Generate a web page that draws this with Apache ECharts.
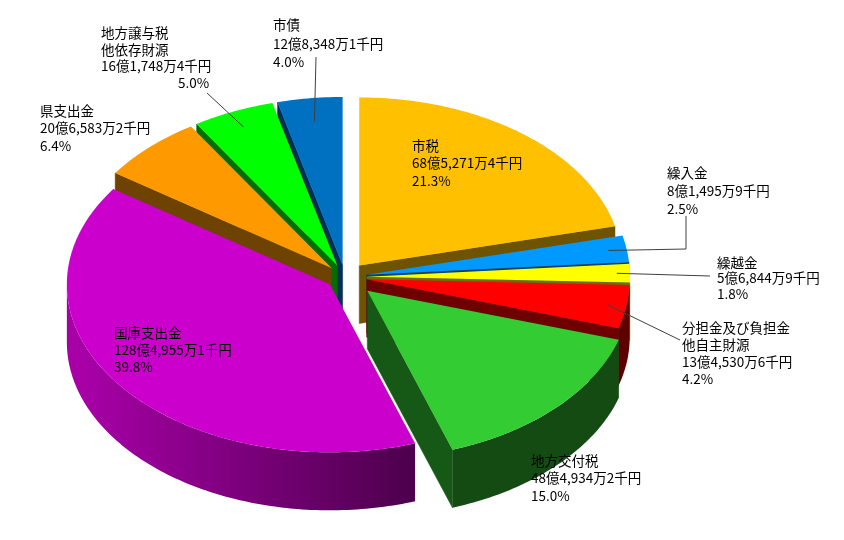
<!DOCTYPE html>
<html>
<head>
<meta charset="utf-8">
<script src="https://cdn.jsdelivr.net/npm/echarts/dist/echarts.min.js"></script>
<style>
  html, body { margin: 0; padding: 0; background: #fff; }
  #main { width: 844px; height: 540px; }
</style>
</head>
<body>
<div id="main"></div>
<script>
// 歳入の内訳（単位：千円）
var names = ['市税', '繰入金', '繰越金', '分担金及び負担金\n他自主財源', '地方交付税',
             '国庫支出金', '県支出金', '地方譲与税\n他依存財源', '市債'];
var values = [6852714, 814959, 568449, 1345306, 4849342, 12849551, 2065832, 1617484, 1283481];
var colors = ['#FFC000', '#0099FF', '#FFFF00', '#FF0000', '#33CC33',
              '#CC00CC', '#FF9900', '#00FF00', '#0070C0'];

// 立体円グラフの見た目
var CX = 345, CY = 277, RX = 263, RY = 168, DEPTH = 58;
var explode = [23, 22, 22, 22, 31, 19, 19, 19, 19];

// ラベルの位置（左上）と引き出し線
var labelPos = [
    { x: 412, y: 137, lh: 17.5 },
    { x: 667, y: 164, lh: 18, r: 0.93, line: [[686, 249], [686, 216]] },
    { x: 717, y: 255, lh: 15.5, r: 0.95, line: [[710, 276]] },
    { x: 682, y: 319.5, lh: 17, r: 0.93, line: [[680, 340]] },
    { x: 531, y: 452, lh: 17.5 },
    { x: 114, y: 324.5, lh: 17 },
    { x: 40, y: 102, lh: 17.5 },
    { x: 101, y: 25, lh: 16.5, pctX: 178, r: 0.9, line: [[207, 93]] },
    { x: 273, y: 16, lh: 18.5, r: 0.86, line: [[316, 57]] }
];

var total = values.reduce(function (s, v) { return s + v; }, 0);
var starts = [];
var acc = 0;
values.forEach(function (v) {
    starts.push(acc / total * Math.PI * 2);
    acc += v;
});

// 奥から手前へ描く順番
var order = values.map(function (v, i) { return i; }).sort(function (a, b) {
    var ma = starts[a] + values[a] / total * Math.PI;
    var mb = starts[b] + values[b] / total * Math.PI;
    return -Math.cos(ma) - -Math.cos(mb);
});

function shade(hex, f) {
    var n = parseInt(hex.slice(1), 16);
    var r = Math.round(((n >> 16) & 255) * f);
    var g = Math.round(((n >> 8) & 255) * f);
    var b = Math.round((n & 255) * f);
    return 'rgb(' + r + ',' + g + ',' + b + ')';
}

function yen(v) {
    var oku = Math.floor(v / 100000);
    var man = Math.floor((v % 100000) / 10);
    var sen = v % 10;
    var manStr = man >= 1000 ? Math.floor(man / 1000) + ',' + String(man % 1000).padStart(3, '0') : String(man);
    return oku + '億' + manStr + '万' + sen + '千円';
}

var FONT = '13.5px "Noto Sans CJK JP", sans-serif';

function renderItem(params, api) {
    var i = params.dataIndex;
    var a0 = starts[i];
    var a1 = a0 + api.value(0) / total * Math.PI * 2;
    var mid = (a0 + a1) / 2;
    var ox = CX + explode[i] * Math.sin(mid);
    var oy = CY - explode[i] * Math.cos(mid) * RY / RX;
    function pt(t, r, h) {
        return [ox + r * RX * Math.sin(t), oy - r * RY * Math.cos(t) + (h || 0)];
    }
    function arc(t0, t1, h) {
        var n = Math.max(2, Math.ceil((t1 - t0) / (Math.PI / 180)));
        var pts = [];
        for (var k = 0; k <= n; k++) pts.push(pt(t0 + (t1 - t0) * k / n, 1, h));
        return pts;
    }
    var rank = order.indexOf(i);
    var dark = shade(colors[i], 0.43);
    var children = [];

    // 切り口の面
    function face(t) {
        return {
            type: 'polygon', z2: rank * 10 + 1,
            shape: { points: [[ox, oy], pt(t, 1), pt(t, 1, DEPTH), [ox, oy + DEPTH]] },
            style: { fill: dark, stroke: dark, lineWidth: 0.5 }
        };
    }
    if (-Math.sin(a0) > 1e-6) children.push(face(a0));
    if (Math.sin(a1) > 1e-6) children.push(face(a1));

    // 外側の側面
    var w0 = Math.max(a0, Math.PI / 2), w1 = Math.min(a1, Math.PI * 1.5);
    if (w1 > w0) {
        var top = arc(w0, w1, 0);
        var bottom = arc(w0, w1, DEPTH).reverse();
        children.push({
            type: 'polygon', z2: rank * 10 + 2,
            shape: { points: top.concat(bottom) },
            style: {
                fill: {
                    type: 'linear', x: CX - RX, y: 0, x2: CX + 75, y2: 0, global: true,
                    colorStops: [
                        { offset: 0, color: shade(colors[i], 0.82) },
                        { offset: 1, color: shade(colors[i], 0.37) }
                    ]
                }
            }
        });
    }

    // 上面
    children.push({
        type: 'polygon', z2: rank * 10 + 5,
        shape: { points: [[ox, oy]].concat(arc(a0, a1, 0)) },
        style: { fill: colors[i] }
    });

    // ラベル
    var lp = labelPos[i];
    var pct = (values[i] / total * 100).toFixed(1) + '%';
    var txt = names[i] + '\n' + yen(values[i]);
    if (lp.pctX == null) txt += '\n' + pct;
    children.push({
        type: 'text', z2: 1000,
        style: { text: txt, x: lp.x, y: lp.y, font: FONT, fill: '#000', lineHeight: lp.lh, verticalAlign: 'top' }
    });
    if (lp.pctX != null) {
        var nLines = txt.split('\n').length;
        children.push({
            type: 'text', z2: 1000,
            style: { text: pct, x: lp.pctX, y: lp.y + nLines * lp.lh, font: FONT, fill: '#000', lineHeight: lp.lh, verticalAlign: 'top' }
        });
    }
    if (lp.line) {
        var s = [ox + lp.r * RX * Math.sin(mid), oy - lp.r * RY * Math.cos(mid)];
        children.push({
            type: 'polyline', z2: 999,
            shape: { points: [s].concat(lp.line) },
            style: { stroke: '#404040', lineWidth: 1, fill: null }
        });
    }

    return { type: 'group', children: children };
}

var myChart = echarts.init(document.getElementById('main'));
var option = {
    backgroundColor: '#fff',
    animation: false,
    series: [
        {
            type: 'custom',
            coordinateSystem: 'none',
            silent: true,
            renderItem: renderItem,
            data: values
        }
    ]
};
myChart.setOption(option);
</script>
</body>
</html>
